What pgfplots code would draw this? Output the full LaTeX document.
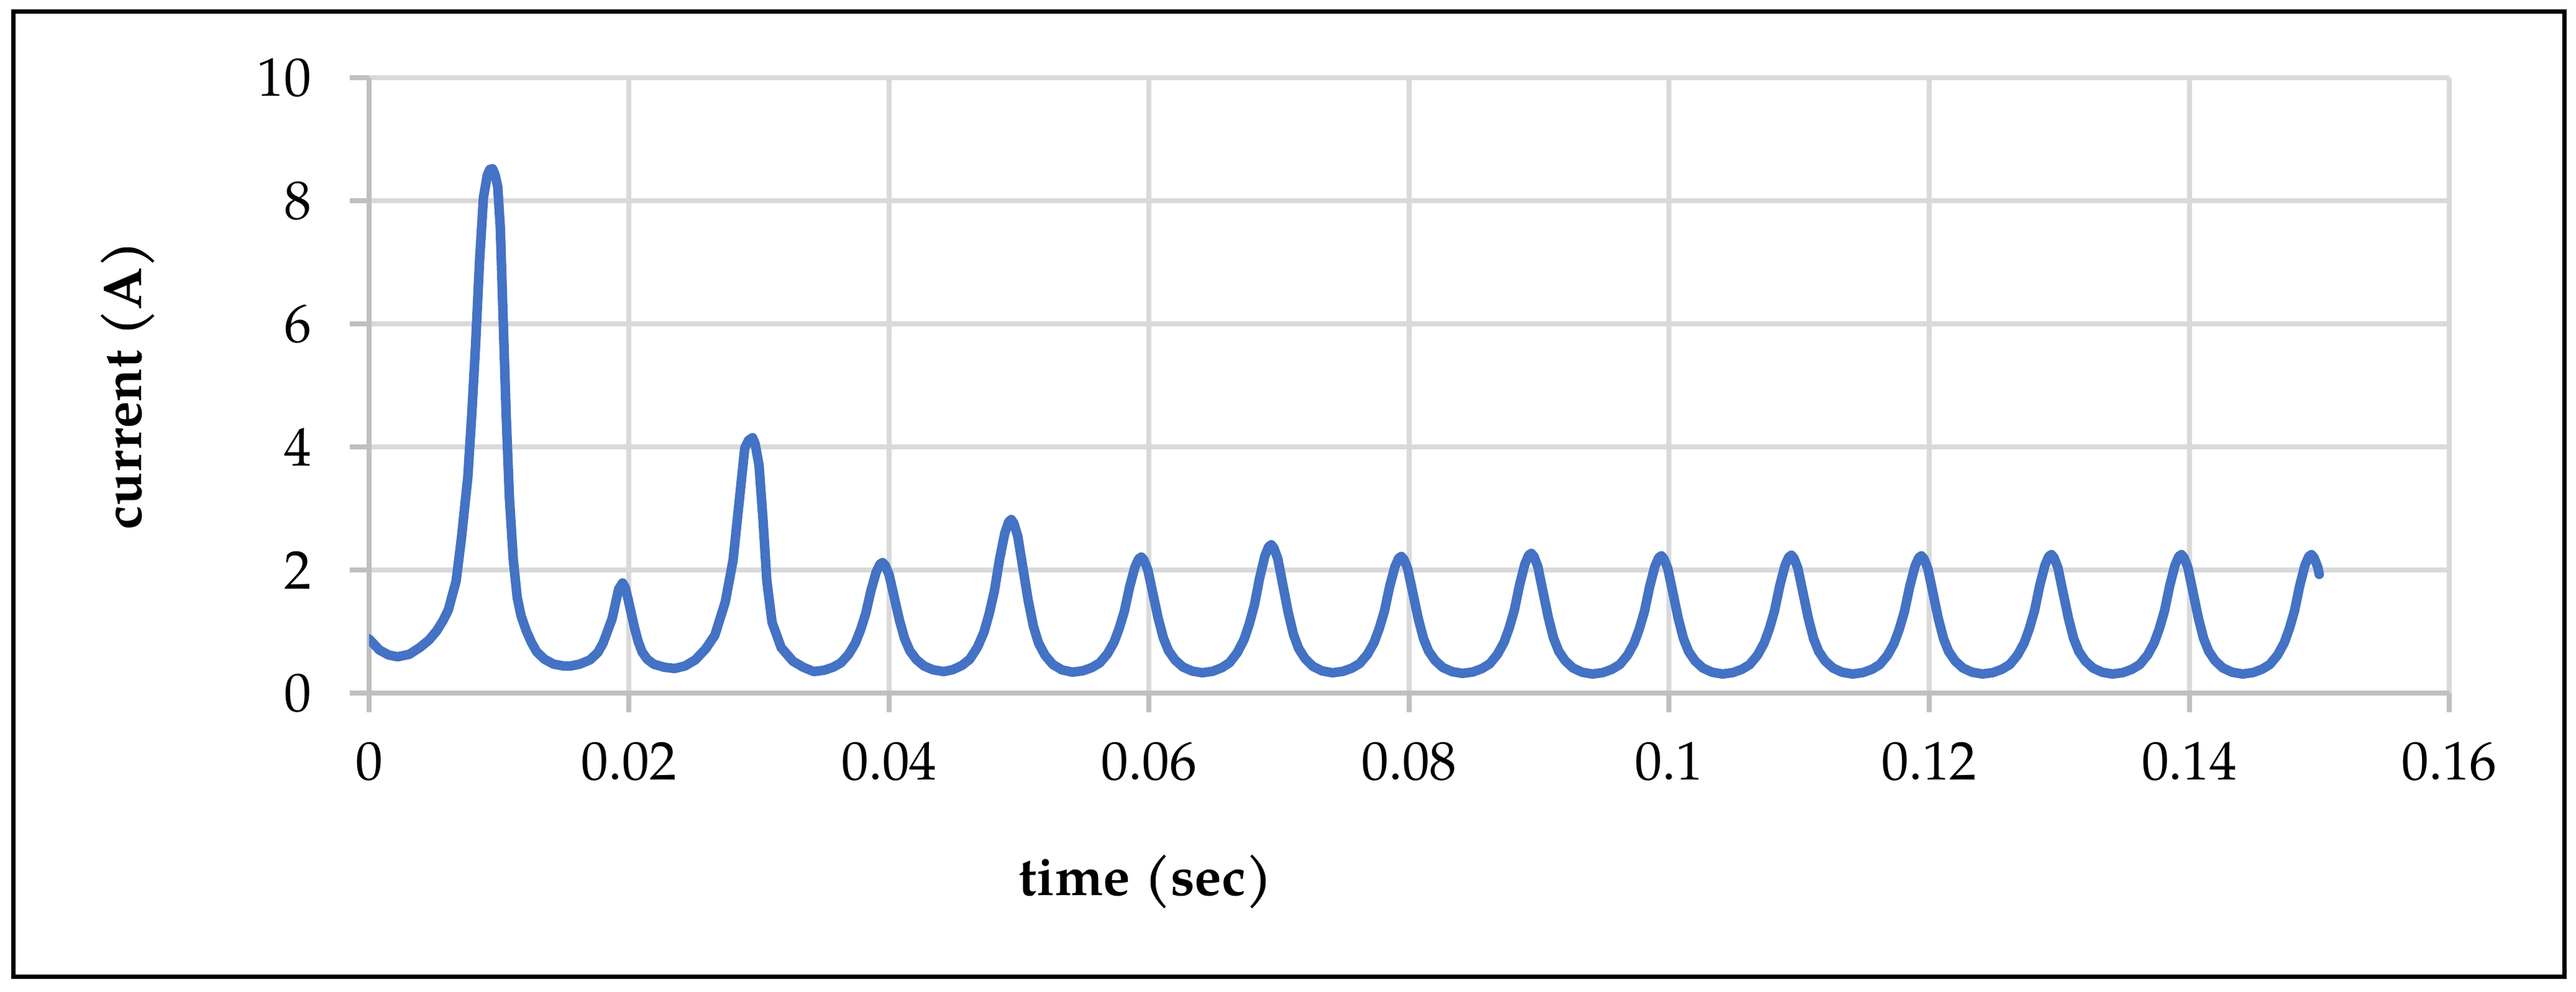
\documentclass[border=0pt]{standalone}
\usepackage{fontspec}
\setmainfont{TeX Gyre Pagella}
\usepackage{pgfplots}
\usepackage{pgfplotstable}
\pgfplotsset{compat=1.18}

\definecolor{xlblue}{HTML}{4472C4}
\definecolor{axisgray}{HTML}{BFBFBF}
\definecolor{gridgray}{HTML}{D9D9D9}

\begin{document}
% current trace
\pgfplotstableread{
t i
0 0.88
0.0008 0.70
0.0015 0.62
0.0022 0.59
0.0031 0.63
0.0039 0.74
0.0046 0.86
0.0052 1.01
0.0057 1.18
0.0061 1.35
0.0067 1.82
0.0071 2.50
0.0076 3.51
0.0079 4.52
0.0082 5.67
0.0085 7.02
0.0088 8.05
0.0091 8.42
0.0093 8.51
0.0095 8.52
0.0097 8.42
0.0099 8.23
0.0101 7.56
0.0103 6.21
0.01055 4.52
0.0108 3.17
0.0111 2.16
0.0114 1.55
0.0117 1.25
0.0121 1.01
0.0125 0.82
0.0129 0.67
0.0135 0.55
0.0142 0.47
0.0150 0.44
0.0155 0.44
0.0162 0.47
0.0170 0.54
0.0176 0.66
0.0180 0.81
0.0187 1.21
0.0192 1.69
0.0195 1.79
0.0197 1.72
0.0199 1.55
0.0204 1.08
0.0207 0.84
0.0210 0.67
0.0214 0.55
0.0219 0.47
0.0227 0.42
0.0235 0.40
0.0243 0.44
0.0251 0.54
0.0259 0.72
0.0266 0.94
0.0274 1.48
0.0280 2.16
0.0285 3.17
0.0289 3.98
0.0292 4.11
0.0295 4.15
0.0297 4.05
0.0300 3.70
0.0303 2.83
0.0306 1.82
0.0310 1.15
0.0317 0.74
0.0326 0.52
0.0334 0.42
0.0342 0.35
0.0350 0.371
0.0357 0.421
0.0363 0.492
0.0369 0.633
0.0374 0.810
0.0378 1.023
0.0382 1.288
0.0386 1.660
0.0390 1.961
0.0393 2.093
0.0395 2.120
0.0397 2.076
0.0400 1.925
0.0404 1.554
0.0408 1.182
0.0412 0.881
0.0416 0.686
0.0421 0.545
0.0427 0.439
0.0434 0.377
0.0442 0.350
0.0449 0.380
0.0456 0.449
0.0462 0.548
0.0468 0.745
0.0473 0.992
0.0477 1.289
0.0481 1.659
0.0485 2.178
0.0489 2.598
0.0492 2.783
0.0494 2.820
0.0496 2.758
0.0499 2.547
0.0503 2.026
0.0507 1.506
0.0511 1.084
0.0515 0.811
0.0520 0.613
0.0526 0.464
0.0533 0.377
0.0541 0.340
0.0549 0.362
0.0556 0.415
0.0562 0.490
0.0568 0.639
0.0573 0.826
0.0577 1.051
0.0581 1.331
0.0585 1.724
0.0589 2.042
0.0592 2.182
0.0594 2.210
0.0596 2.163
0.0599 2.003
0.0603 1.608
0.0607 1.214
0.0611 0.894
0.0615 0.687
0.0620 0.537
0.0626 0.424
0.0633 0.358
0.0641 0.330
0.0649 0.355
0.0656 0.413
0.0662 0.496
0.0668 0.663
0.0673 0.871
0.0677 1.120
0.0681 1.432
0.0685 1.869
0.0689 2.223
0.0692 2.379
0.0694 2.410
0.0696 2.358
0.0699 2.181
0.0703 1.744
0.0707 1.308
0.0711 0.954
0.0715 0.725
0.0720 0.559
0.0726 0.434
0.0733 0.361
0.0741 0.330
0.0749 0.353
0.0756 0.406
0.0762 0.481
0.0768 0.632
0.0773 0.821
0.0777 1.048
0.0781 1.332
0.0785 1.729
0.0789 2.050
0.0792 2.192
0.0794 2.220
0.0796 2.173
0.0799 2.011
0.0803 1.612
0.0807 1.213
0.0811 0.890
0.0815 0.681
0.0820 0.529
0.0826 0.415
0.0833 0.349
0.0841 0.320
0.0849 0.343
0.0856 0.398
0.0862 0.476
0.0868 0.632
0.0873 0.827
0.0877 1.061
0.0881 1.354
0.0885 1.763
0.0889 2.095
0.0892 2.241
0.0894 2.270
0.0896 2.221
0.0899 2.054
0.0903 1.643
0.0907 1.231
0.0911 0.898
0.0915 0.682
0.0920 0.526
0.0926 0.408
0.0933 0.339
0.0941 0.310
0.0949 0.333
0.0956 0.387
0.0962 0.464
0.0968 0.617
0.0973 0.809
0.0977 1.040
0.0981 1.328
0.0985 1.731
0.0989 2.057
0.0992 2.201
0.0994 2.230
0.0996 2.182
0.0999 2.019
0.1003 1.616
0.1007 1.212
0.1011 0.886
0.1015 0.675
0.1020 0.521
0.1026 0.406
0.1033 0.339
0.1041 0.310
0.1049 0.333
0.1056 0.387
0.1062 0.464
0.1068 0.619
0.1073 0.812
0.1077 1.043
0.1081 1.333
0.1085 1.738
0.1089 2.066
0.1092 2.211
0.1094 2.240
0.1096 2.192
0.1099 2.028
0.1103 1.622
0.1107 1.217
0.1111 0.889
0.1115 0.677
0.1120 0.522
0.1126 0.407
0.1133 0.339
0.1141 0.310
0.1149 0.333
0.1156 0.387
0.1162 0.464
0.1168 0.617
0.1173 0.809
0.1177 1.040
0.1181 1.328
0.1185 1.731
0.1189 2.057
0.1192 2.201
0.1194 2.230
0.1196 2.182
0.1199 2.019
0.1203 1.616
0.1207 1.212
0.1211 0.886
0.1215 0.675
0.1220 0.521
0.1226 0.406
0.1233 0.339
0.1241 0.310
0.1249 0.333
0.1256 0.388
0.1262 0.465
0.1268 0.620
0.1273 0.814
0.1277 1.047
0.1281 1.338
0.1285 1.746
0.1289 2.075
0.1292 2.221
0.1294 2.250
0.1296 2.202
0.1299 2.037
0.1303 1.629
0.1307 1.222
0.1311 0.892
0.1315 0.679
0.1320 0.523
0.1326 0.407
0.1333 0.339
0.1341 0.310
0.1349 0.333
0.1356 0.388
0.1362 0.465
0.1368 0.620
0.1373 0.814
0.1377 1.047
0.1381 1.338
0.1385 1.746
0.1389 2.075
0.1392 2.221
0.1394 2.250
0.1396 2.202
0.1399 2.037
0.1403 1.629
0.1407 1.222
0.1411 0.892
0.1415 0.679
0.1420 0.523
0.1426 0.407
0.1433 0.339
0.1441 0.310
0.1449 0.333
0.1456 0.388
0.1462 0.465
0.1468 0.620
0.1473 0.814
0.1477 1.047
0.1481 1.338
0.1485 1.746
0.1489 2.075
0.1492 2.221
0.1494 2.250
0.1496 2.202
0.1499 2.037
0.1500 1.930
}\currentdata

\begin{tikzpicture}[font=\fontsize{12}{14.4}\selectfont]
\useasboundingbox (-2.865,-2.316) rectangle (17.135,5.379);
% outer frame
\draw[line width=0.034cm] (-2.759,-2.200) rectangle (17.044,5.292);
\begin{axis}[
    scale only axis,
    width=16.151cm, height=4.776cm,
    xmin=0, xmax=0.16, ymin=0, ymax=10,
    axis x line=bottom, axis y line=left,
    axis line style={draw=axisgray, line width=1.1pt, -},
    xtick={0,0.02,0.04,0.06,0.08,0.1,0.12,0.14,0.16},
    xticklabels={0,0.02,0.04,0.06,0.08,0.1,0.12,0.14,0.16},
    ytick={0,2,4,6,8,10},
    yticklabels={0,2,4,6,8,10},
    scaled x ticks=false,
    tick align=outside,
    major tick length=4.2pt,
    tick style={draw=axisgray, line width=1.1pt},
    grid=major,
    major grid style={draw=gridgray, line width=1.1pt},
    xticklabel style={anchor=north, inner sep=0pt, yshift=-6.4pt},
    yticklabel style={anchor=east, inner sep=0pt, xshift=-8.3pt},
    xlabel={time (sec)},
    ylabel={current (A)},
    xlabel style={font=\fontsize{12}{14.4}\selectfont\bfseries,
        at={(axis description cs:0.3734,-0.3061)}, anchor=center},
    ylabel style={font=\fontsize{12}{14.4}\selectfont\bfseries,
        at={(axis description cs:-0.1159,0.5)}, anchor=center},
]
\addplot[xlblue, line width=2.1pt, line join=round, line cap=round]
    table[x=t, y=i] {\currentdata};
\end{axis}
\end{tikzpicture}
\end{document}
